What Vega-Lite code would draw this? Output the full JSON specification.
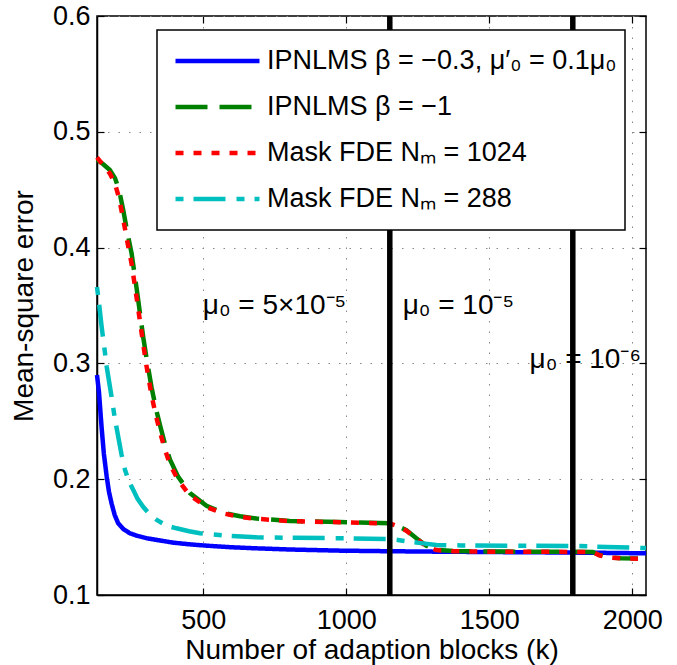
{
  "$schema": "https://vega.github.io/schema/vega-lite/v6.json",
  "width": 549,
  "height": 579,
  "autosize": {"type": "none"},
  "padding": {"left": 97, "top": 16, "right": 31, "bottom": 70},
  "background": "white",
  "config": {
    "font": "Liberation Sans",
    "view": {"stroke": "black", "strokeWidth": 1.5},
    "axis": {
      "labelFont": "Liberation Sans", "titleFont": "Liberation Sans",
      "labelFontSize": 27, "titleFontSize": 28,
      "labelColor": "black", "titleColor": "black", "titleFontWeight": "normal",
      "domainColor": "black", "domainWidth": 1.5,
      "tickColor": "black", "tickWidth": 1.2, "tickSize": -7,
      "gridColor": "#888", "gridDash": [1.5, 9], "gridWidth": 1, "gridOpacity": 1,
      "labelFlush": false, "labelOverlap": false, "labelBound": false
    },
    "legend": {"strokeWidth": 1.5}
  },
  "datasets": {
    "curves": [
      {"series": "IPNLMS β = −0.3, μ′₀ = 0.1μ₀", "k": 128, "mse": 0.290},
      {"series": "IPNLMS β = −0.3, μ′₀ = 0.1μ₀", "k": 135, "mse": 0.275},
      {"series": "IPNLMS β = −0.3, μ′₀ = 0.1μ₀", "k": 144, "mse": 0.245},
      {"series": "IPNLMS β = −0.3, μ′₀ = 0.1μ₀", "k": 152, "mse": 0.222},
      {"series": "IPNLMS β = −0.3, μ′₀ = 0.1μ₀", "k": 162, "mse": 0.202},
      {"series": "IPNLMS β = −0.3, μ′₀ = 0.1μ₀", "k": 170, "mse": 0.189},
      {"series": "IPNLMS β = −0.3, μ′₀ = 0.1μ₀", "k": 179, "mse": 0.179},
      {"series": "IPNLMS β = −0.3, μ′₀ = 0.1μ₀", "k": 190, "mse": 0.169},
      {"series": "IPNLMS β = −0.3, μ′₀ = 0.1μ₀", "k": 202, "mse": 0.162},
      {"series": "IPNLMS β = −0.3, μ′₀ = 0.1μ₀", "k": 220, "mse": 0.157},
      {"series": "IPNLMS β = −0.3, μ′₀ = 0.1μ₀", "k": 243, "mse": 0.1533},
      {"series": "IPNLMS β = −0.3, μ′₀ = 0.1μ₀", "k": 270, "mse": 0.151},
      {"series": "IPNLMS β = −0.3, μ′₀ = 0.1μ₀", "k": 302, "mse": 0.149},
      {"series": "IPNLMS β = −0.3, μ′₀ = 0.1μ₀", "k": 350, "mse": 0.147},
      {"series": "IPNLMS β = −0.3, μ′₀ = 0.1μ₀", "k": 395, "mse": 0.1452},
      {"series": "IPNLMS β = −0.3, μ′₀ = 0.1μ₀", "k": 450, "mse": 0.1438},
      {"series": "IPNLMS β = −0.3, μ′₀ = 0.1μ₀", "k": 511, "mse": 0.1426},
      {"series": "IPNLMS β = −0.3, μ′₀ = 0.1μ₀", "k": 600, "mse": 0.1412},
      {"series": "IPNLMS β = −0.3, μ′₀ = 0.1μ₀", "k": 686, "mse": 0.1403},
      {"series": "IPNLMS β = −0.3, μ′₀ = 0.1μ₀", "k": 800, "mse": 0.1393},
      {"series": "IPNLMS β = −0.3, μ′₀ = 0.1μ₀", "k": 977, "mse": 0.1383},
      {"series": "IPNLMS β = −0.3, μ′₀ = 0.1μ₀", "k": 1150, "mse": 0.1378},
      {"series": "IPNLMS β = −0.3, μ′₀ = 0.1μ₀", "k": 1326, "mse": 0.1374},
      {"series": "IPNLMS β = −0.3, μ′₀ = 0.1μ₀", "k": 1500, "mse": 0.1371},
      {"series": "IPNLMS β = −0.3, μ′₀ = 0.1μ₀", "k": 1700, "mse": 0.1368},
      {"series": "IPNLMS β = −0.3, μ′₀ = 0.1μ₀", "k": 1900, "mse": 0.1364},
      {"series": "IPNLMS β = −0.3, μ′₀ = 0.1μ₀", "k": 2048, "mse": 0.136},

      {"series": "IPNLMS β = −1", "k": 128, "mse": 0.476},
      {"series": "IPNLMS β = −1", "k": 150, "mse": 0.472},
      {"series": "IPNLMS β = −1", "k": 173, "mse": 0.467},
      {"series": "IPNLMS β = −1", "k": 191, "mse": 0.460},
      {"series": "IPNLMS β = −1", "k": 205, "mse": 0.450},
      {"series": "IPNLMS β = −1", "k": 220, "mse": 0.432},
      {"series": "IPNLMS β = −1", "k": 235, "mse": 0.412},
      {"series": "IPNLMS β = −1", "k": 249, "mse": 0.395},
      {"series": "IPNLMS β = −1", "k": 267, "mse": 0.364},
      {"series": "IPNLMS β = −1", "k": 290, "mse": 0.322},
      {"series": "IPNLMS β = −1", "k": 301, "mse": 0.305},
      {"series": "IPNLMS β = −1", "k": 319, "mse": 0.279},
      {"series": "IPNLMS β = −1", "k": 335, "mse": 0.260},
      {"series": "IPNLMS β = −1", "k": 348, "mse": 0.247},
      {"series": "IPNLMS β = −1", "k": 365, "mse": 0.231},
      {"series": "IPNLMS β = −1", "k": 383, "mse": 0.217},
      {"series": "IPNLMS β = −1", "k": 412, "mse": 0.202},
      {"series": "IPNLMS β = −1", "k": 453, "mse": 0.188},
      {"series": "IPNLMS β = −1", "k": 511, "mse": 0.177},
      {"series": "IPNLMS β = −1", "k": 569, "mse": 0.171},
      {"series": "IPNLMS β = −1", "k": 628, "mse": 0.168},
      {"series": "IPNLMS β = −1", "k": 686, "mse": 0.166},
      {"series": "IPNLMS β = −1", "k": 802, "mse": 0.164},
      {"series": "IPNLMS β = −1", "k": 977, "mse": 0.163},
      {"series": "IPNLMS β = −1", "k": 1152, "mse": 0.162},
      {"series": "IPNLMS β = −1", "k": 1175, "mse": 0.160},
      {"series": "IPNLMS β = −1", "k": 1210, "mse": 0.156},
      {"series": "IPNLMS β = −1", "k": 1245, "mse": 0.149},
      {"series": "IPNLMS β = −1", "k": 1280, "mse": 0.1425},
      {"series": "IPNLMS β = −1", "k": 1315, "mse": 0.139},
      {"series": "IPNLMS β = −1", "k": 1373, "mse": 0.138},
      {"series": "IPNLMS β = −1", "k": 1500, "mse": 0.1375},
      {"series": "IPNLMS β = −1", "k": 1700, "mse": 0.1374},
      {"series": "IPNLMS β = −1", "k": 1862, "mse": 0.1372},
      {"series": "IPNLMS β = −1", "k": 1885, "mse": 0.1345},
      {"series": "IPNLMS β = −1", "k": 1920, "mse": 0.1325},
      {"series": "IPNLMS β = −1", "k": 1960, "mse": 0.1318},
      {"series": "IPNLMS β = −1", "k": 2020, "mse": 0.1315},

      {"series": "Mask FDE Nₘ = 1024", "k": 128, "mse": 0.478},
      {"series": "Mask FDE Nₘ = 1024", "k": 150, "mse": 0.471},
      {"series": "Mask FDE Nₘ = 1024", "k": 173, "mse": 0.464},
      {"series": "Mask FDE Nₘ = 1024", "k": 191, "mse": 0.455},
      {"series": "Mask FDE Nₘ = 1024", "k": 205, "mse": 0.443},
      {"series": "Mask FDE Nₘ = 1024", "k": 220, "mse": 0.424},
      {"series": "Mask FDE Nₘ = 1024", "k": 235, "mse": 0.404},
      {"series": "Mask FDE Nₘ = 1024", "k": 249, "mse": 0.386},
      {"series": "Mask FDE Nₘ = 1024", "k": 267, "mse": 0.356},
      {"series": "Mask FDE Nₘ = 1024", "k": 290, "mse": 0.316},
      {"series": "Mask FDE Nₘ = 1024", "k": 301, "mse": 0.298},
      {"series": "Mask FDE Nₘ = 1024", "k": 319, "mse": 0.272},
      {"series": "Mask FDE Nₘ = 1024", "k": 335, "mse": 0.254},
      {"series": "Mask FDE Nₘ = 1024", "k": 348, "mse": 0.241},
      {"series": "Mask FDE Nₘ = 1024", "k": 365, "mse": 0.226},
      {"series": "Mask FDE Nₘ = 1024", "k": 383, "mse": 0.213},
      {"series": "Mask FDE Nₘ = 1024", "k": 412, "mse": 0.199},
      {"series": "Mask FDE Nₘ = 1024", "k": 453, "mse": 0.186},
      {"series": "Mask FDE Nₘ = 1024", "k": 511, "mse": 0.176},
      {"series": "Mask FDE Nₘ = 1024", "k": 569, "mse": 0.1705},
      {"series": "Mask FDE Nₘ = 1024", "k": 628, "mse": 0.1675},
      {"series": "Mask FDE Nₘ = 1024", "k": 686, "mse": 0.1658},
      {"series": "Mask FDE Nₘ = 1024", "k": 802, "mse": 0.1638},
      {"series": "Mask FDE Nₘ = 1024", "k": 977, "mse": 0.1628},
      {"series": "Mask FDE Nₘ = 1024", "k": 1152, "mse": 0.1618},
      {"series": "Mask FDE Nₘ = 1024", "k": 1175, "mse": 0.1598},
      {"series": "Mask FDE Nₘ = 1024", "k": 1210, "mse": 0.1555},
      {"series": "Mask FDE Nₘ = 1024", "k": 1245, "mse": 0.1485},
      {"series": "Mask FDE Nₘ = 1024", "k": 1280, "mse": 0.142},
      {"series": "Mask FDE Nₘ = 1024", "k": 1315, "mse": 0.1388},
      {"series": "Mask FDE Nₘ = 1024", "k": 1373, "mse": 0.1378},
      {"series": "Mask FDE Nₘ = 1024", "k": 1500, "mse": 0.1374},
      {"series": "Mask FDE Nₘ = 1024", "k": 1700, "mse": 0.1373},
      {"series": "Mask FDE Nₘ = 1024", "k": 1862, "mse": 0.1371},
      {"series": "Mask FDE Nₘ = 1024", "k": 1885, "mse": 0.1343},
      {"series": "Mask FDE Nₘ = 1024", "k": 1920, "mse": 0.1323},
      {"series": "Mask FDE Nₘ = 1024", "k": 1960, "mse": 0.1316},
      {"series": "Mask FDE Nₘ = 1024", "k": 2020, "mse": 0.1313},

      {"series": "Mask FDE Nₘ = 288", "k": 128, "mse": 0.366},
      {"series": "Mask FDE Nₘ = 288", "k": 135, "mse": 0.352},
      {"series": "Mask FDE Nₘ = 288", "k": 144, "mse": 0.332},
      {"series": "Mask FDE Nₘ = 288", "k": 156, "mse": 0.309},
      {"series": "Mask FDE Nₘ = 288", "k": 162, "mse": 0.297},
      {"series": "Mask FDE Nₘ = 288", "k": 179, "mse": 0.271},
      {"series": "Mask FDE Nₘ = 288", "k": 190, "mse": 0.253},
      {"series": "Mask FDE Nₘ = 288", "k": 202, "mse": 0.237},
      {"series": "Mask FDE Nₘ = 288", "k": 214, "mse": 0.221},
      {"series": "Mask FDE Nₘ = 288", "k": 226, "mse": 0.208},
      {"series": "Mask FDE Nₘ = 288", "k": 240, "mse": 0.198},
      {"series": "Mask FDE Nₘ = 288", "k": 255, "mse": 0.1907},
      {"series": "Mask FDE Nₘ = 288", "k": 270, "mse": 0.183},
      {"series": "Mask FDE Nₘ = 288", "k": 290, "mse": 0.176},
      {"series": "Mask FDE Nₘ = 288", "k": 315, "mse": 0.169},
      {"series": "Mask FDE Nₘ = 288", "k": 337, "mse": 0.1648},
      {"series": "Mask FDE Nₘ = 288", "k": 370, "mse": 0.160},
      {"series": "Mask FDE Nₘ = 288", "k": 406, "mse": 0.1576},
      {"series": "Mask FDE Nₘ = 288", "k": 450, "mse": 0.155},
      {"series": "Mask FDE Nₘ = 288", "k": 488, "mse": 0.1533},
      {"series": "Mask FDE Nₘ = 288", "k": 593, "mse": 0.151},
      {"series": "Mask FDE Nₘ = 288", "k": 686, "mse": 0.1498},
      {"series": "Mask FDE Nₘ = 288", "k": 800, "mse": 0.1494},
      {"series": "Mask FDE Nₘ = 288", "k": 977, "mse": 0.149},
      {"series": "Mask FDE Nₘ = 288", "k": 1152, "mse": 0.1483},
      {"series": "Mask FDE Nₘ = 288", "k": 1180, "mse": 0.1475},
      {"series": "Mask FDE Nₘ = 288", "k": 1222, "mse": 0.146},
      {"series": "Mask FDE Nₘ = 288", "k": 1260, "mse": 0.1448},
      {"series": "Mask FDE Nₘ = 288", "k": 1315, "mse": 0.1432},
      {"series": "Mask FDE Nₘ = 288", "k": 1400, "mse": 0.1428},
      {"series": "Mask FDE Nₘ = 288", "k": 1600, "mse": 0.1426},
      {"series": "Mask FDE Nₘ = 288", "k": 1792, "mse": 0.1424},
      {"series": "Mask FDE Nₘ = 288", "k": 1850, "mse": 0.142},
      {"series": "Mask FDE Nₘ = 288", "k": 1909, "mse": 0.1415},
      {"series": "Mask FDE Nₘ = 288", "k": 2048, "mse": 0.1405}
    ],
    "switches": [{"k": 1152}, {"k": 1792}],
    "notes": [
      {"k": 498, "mse": 0.350, "label": "μ₀ = 5×10⁻⁵"},
      {"k": 1197, "mse": 0.350, "label": "μ₀ = 10⁻⁵"},
      {"k": 1641, "mse": 0.303, "label": "μ₀ = 10⁻⁶"}
    ]
  },
  "layer": [
    {
      "data": {"name": "curves"},
      "mark": {"type": "line", "strokeWidth": 4.5, "strokeCap": "butt"},
      "encoding": {
        "x": {
          "field": "k", "type": "quantitative",
          "scale": {"domain": [128, 2048], "nice": false, "zero": false},
          "axis": {"orient": "bottom", "values": [500, 1000, 1500, 2000], "format": "d", "title": "Number of adaption blocks (k)", "labelPadding": 19, "titlePadding": 3, "grid": true}
        },
        "y": {
          "field": "mse", "type": "quantitative",
          "scale": {"domain": [0.1, 0.6], "nice": false, "zero": false},
          "axis": {"orient": "left", "values": [0.1, 0.2, 0.3, 0.4, 0.5, 0.6], "format": ".1f", "title": "Mean-square error", "labelPadding": 14, "titlePadding": 14, "grid": true}
        },
        "color": {
          "field": "series", "type": "nominal",
          "scale": {
            "domain": ["IPNLMS β = −0.3, μ′₀ = 0.1μ₀", "IPNLMS β = −1", "Mask FDE Nₘ = 1024", "Mask FDE Nₘ = 288"],
            "range": ["#0000ff", "#008000", "#ff0000", "#00bfbf"]
          },
          "legend": {
            "title": null, "orient": "none", "legendX": 60, "legendY": 14,
            "symbolType": "stroke", "symbolSize": 7056, "symbolStrokeWidth": 4.5,
            "clipHeight": 46, "labelFontSize": 27, "labelFont": "Liberation Sans", "labelColor": "black",
            "labelLimit": 600, "strokeColor": "black", "fillColor": "white",
            "padding": 8, "symbolOffset": 8, "labelOffset": 5, "rowPadding": 0
          }
        },
        "strokeDash": {
          "field": "series", "type": "nominal",
          "scale": {
            "domain": ["IPNLMS β = −0.3, μ′₀ = 0.1μ₀", "IPNLMS β = −1", "Mask FDE Nₘ = 1024", "Mask FDE Nₘ = 288"],
            "range": [[1, 0], [32, 12], [8, 10], [8, 10, 32, 11]]
          },
          "legend": {
            "title": null, "orient": "none", "legendX": 60, "legendY": 14,
            "symbolType": "stroke", "symbolSize": 7056, "symbolStrokeWidth": 4.5,
            "clipHeight": 46, "labelFontSize": 27, "labelFont": "Liberation Sans", "labelColor": "black",
            "labelLimit": 600, "strokeColor": "black", "fillColor": "white",
            "padding": 8, "symbolOffset": 8, "labelOffset": 5, "rowPadding": 0
          }
        }
      }
    },
    {
      "data": {"name": "switches"},
      "mark": {"type": "rule", "color": "black", "strokeWidth": 5.5},
      "encoding": {
        "x": {"field": "k", "type": "quantitative", "axis": null}
      }
    },
    {
      "data": {"name": "notes"},
      "mark": {"type": "text", "align": "left", "baseline": "middle", "fontSize": 28, "font": "Liberation Sans", "color": "black"},
      "encoding": {
        "x": {"field": "k", "type": "quantitative", "axis": {"orient": "top", "values": [500, 1000, 1500, 2000], "labels": false, "title": null, "grid": false, "domain": false}},
        "y": {"field": "mse", "type": "quantitative", "axis": {"orient": "right", "values": [0.1, 0.2, 0.3, 0.4, 0.5, 0.6], "labels": false, "title": null, "grid": false, "domain": false}},
        "text": {"field": "label"}
      }
    }
  ],
  "resolve": {"axis": {"x": "independent", "y": "independent"}}
}
